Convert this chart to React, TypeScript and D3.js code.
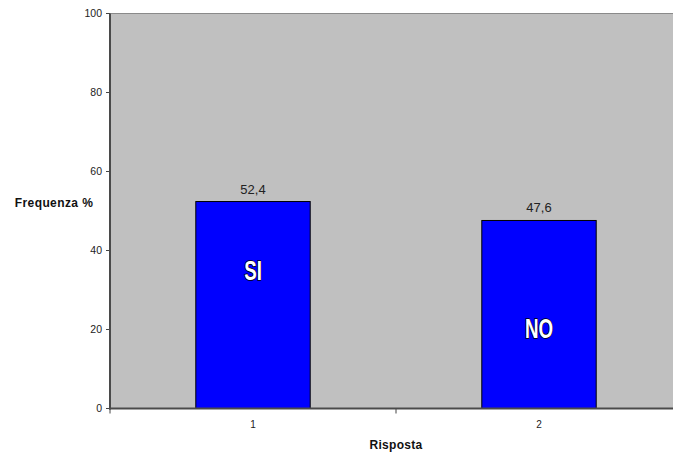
import React from "react";
import * as d3 from "d3";

const categories = ["1", "2"];
const values = [52.4, 47.6];
const valueLabels = ["52,4", "47,6"];
const barNames = ["SI", "NO"];
const barNameLevels = [35, 20.4];
const yTicks = [0, 20, 40, 60, 80, 100];

export default function App() {
  const W = 673, H = 455;
  const left = 110, top = 13.5, bottom = 408.5, right = 682;
  const x = d3.scaleBand<string>().domain(categories).range([left, right]).paddingInner(0).paddingOuter(0);
  const y = d3.scaleLinear().domain([0, 100]).range([bottom, top]);
  const bw = x.bandwidth() * 0.4;
  const font = "Liberation Sans, Arial, Helvetica, sans-serif";
  const boundaries = [left, ...categories.map((c) => (x(c) as number) + x.bandwidth())];
  return (
    <svg width={W} height={H} style={{ position: "absolute", left: 0, top: 0, background: "#fff" }}>
      <rect x={left} y={top} width={right - left} height={bottom - top} fill="#c0c0c0" />
      <line x1={left} x2={right} y1={top} y2={top} stroke="#8a8a8a" strokeWidth={1} />
      {categories.map((c, i) => {
        const cx = (x(c) as number) + x.bandwidth() / 2;
        const ly = y(barNameLevels[i]);
        return (
          <g key={c}>
            <rect x={cx - bw / 2} y={y(values[i])} width={bw} height={bottom - y(values[i])} fill="#0000ff" stroke="#000" strokeWidth={1} />
            <text x={cx} y={y(values[i]) - 8} textAnchor="middle" fontFamily={font} fontSize={13} fill="#222">{valueLabels[i]}</text>
            <g transform={`translate(${cx},${ly}) scale(0.67,1)`}>
              <text x={0} y={0} dy="0.36em" textAnchor="middle" fontFamily={font} fontWeight="bold" fontSize={28} fill="#fff" stroke="#000" strokeWidth={1.6} paintOrder="stroke">{barNames[i]}</text>
            </g>
            <text x={cx} y={428} textAnchor="middle" fontFamily={font} fontSize={10} fill="#222">{c}</text>
          </g>
        );
      })}
      {yTicks.map((t) => (
        <g key={t}>
          <line x1={left - 4} x2={left} y1={y(t)} y2={y(t)} stroke="#444" />
          <text x={left - 8} y={y(t)} dy="0.35em" textAnchor="end" fontFamily={font} fontSize={10.5} fill="#222">{t}</text>
        </g>
      ))}
      {boundaries.map((b, i) => (
        <line key={i} x1={b} x2={b} y1={bottom} y2={bottom + 5} stroke="#444" />
      ))}
      <line x1={left} x2={left} y1={top} y2={bottom + 1} stroke="#4a4a4a" strokeWidth={2} />
      <line x1={left - 1} x2={right} y1={bottom} y2={bottom} stroke="#4a4a4a" strokeWidth={2} />
      <text x={54} y={207} textAnchor="middle" fontFamily={font} fontWeight="bold" fontSize={12} letterSpacing={0.4} fill="#111">Frequenza %</text>
      <text x={396} y={449} textAnchor="middle" fontFamily={font} fontWeight="bold" fontSize={12} letterSpacing={0.3} fill="#111">Risposta</text>
    </svg>
  );
}
